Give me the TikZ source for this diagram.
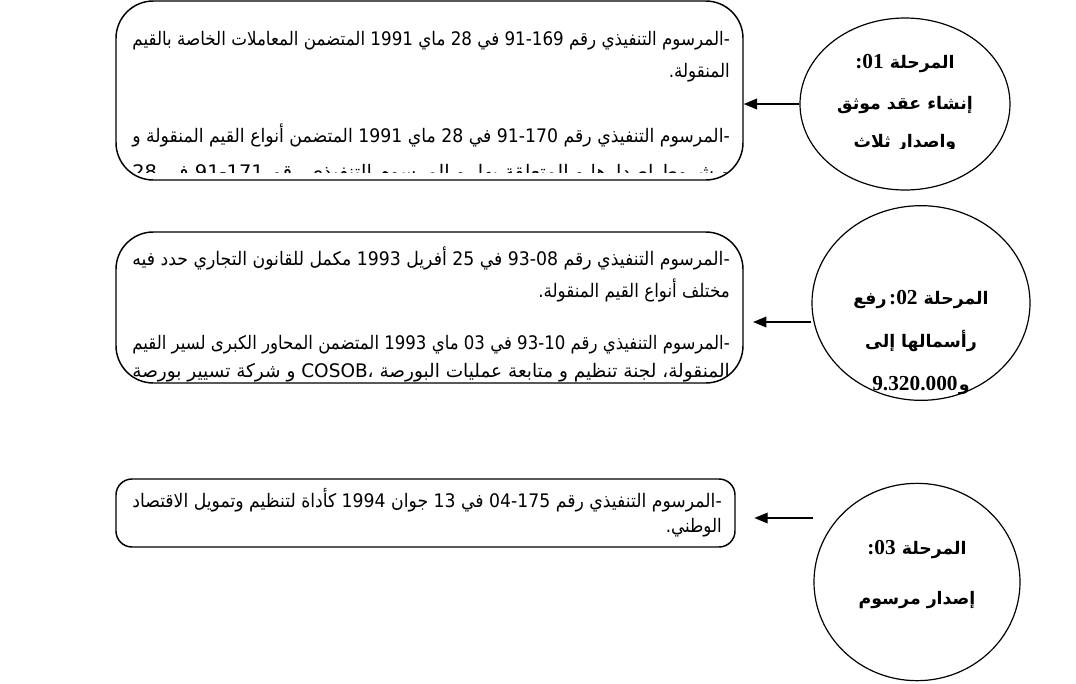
\documentclass[tikz,border=0pt]{standalone}
\usepackage{fontspec}
\usepackage{graphicx}
\usetikzlibrary{shapes.geometric,arrows.meta}
\TeXXeTstate=1
\newfontfamily\arabicfont[Script=Arabic]{DejaVu Sans}
\newfontfamily\numfont{Liberation Serif}
\newcommand\bodyfont{\arabicfont\fontsize{14}{16}\selectfont}
\newcommand\stagefont{\arabicfont\bfseries\fontsize{13}{15}\selectfont}
\newsavebox\measbox
\newcommand\fullline[2][448pt]{\resizebox{#1}{\height}{\bodyfont\beginR #2\endR}}
\newcommand\shortline[1]{\scalebox{\sx}[1]{\bodyfont\beginR #1\endR}}
\newcommand\stageline[1]{{\stagefont\beginR #1\endR}}
\newcommand\nm[1]{{\numfont\bfseries\fontsize{16}{18}\selectfont #1}}
\begin{document}
\sbox\measbox{\bodyfont\beginR -المرسوم التنفيذي رقم 91-169 في 28 ماي 1991 المتضمن المعاملات الخاصة بالقيم\endR}%
\pgfmathsetmacro\sx{448pt/\wd\measbox}%
\begin{tikzpicture}[x=0.75pt,y=-0.75pt,
  boxst/.style={draw,line width=1.1pt,inner sep=0pt},
  stagest/.style={draw,ellipse,line width=0.9pt,inner sep=0pt},
  txt/.style={inner sep=0pt,anchor=base east},
  stg/.style={inner sep=0pt,anchor=base},
  arr/.style={line width=1.1pt,-{Triangle[length=10pt,width=8pt]}}]
\useasboundingbox (0,0) rectangle (1076,683);

% boxes
\node[boxst,rounded corners=28pt,minimum width=470.25pt,minimum height=134.25pt] (b1) at (429.5,90.5) {};
\node[boxst,rounded corners=28pt,minimum width=470.25pt,minimum height=113.25pt] (b2) at (429.5,307.5) {};
\node[boxst,rounded corners=12pt,minimum width=464.25pt,minimum height=51pt] (b3) at (425.5,513) {};

% ellipses
\node[stagest,minimum width=157.5pt,minimum height=129pt] (e1) at (905,104) {};
\node[stagest,minimum width=163.5pt,minimum height=146pt] (e2) at (921,303) {};
\node[stagest,minimum width=154.5pt,minimum height=148pt] (e3) at (917,582) {};

% box 1 text
\node[txt] (t11) at (730,45) {\fullline{-المرسوم التنفيذي رقم 91-169 في 28 ماي 1991 المتضمن المعاملات الخاصة بالقيم}};
\node[txt] (t12) at (730,77) {\shortline{المنقولة.}};
\node[txt] (t13) at (730,142) {\fullline{-المرسوم التنفيذي رقم 91-170 في 28 ماي 1991 المتضمن أنواع القيم المنقولة و}};
\begin{scope}
\clip (100,150) rectangle (760,172);
\node[txt] (t14) at (730,178) {\fullline{و شروط إصدارها و المتعلقة بها، و المرسوم التنفيذي رقم 91-171 في 28}};
\end{scope}

% box 2 text
\node[txt] (t21) at (730,265) {\fullline{-المرسوم التنفيذي رقم 93-08 في 25 أفريل 1993 مكمل للقانون التجاري حدد فيه}};
\node[txt] (t22) at (730,297) {\shortline{مختلف أنواع القيم المنقولة.}};
\node[txt] (t23) at (730,349) {\fullline{-المرسوم التنفيذي رقم 93-10 في 03 ماي 1993 المتضمن المحاور الكبرى لسير القيم}};
\begin{scope}
\clip (100,360) rectangle (760,381);
\node[txt] (t24) at (730,377) {\fullline{المنقولة، لجنة تنظيم و متابعة عمليات البورصة COSOB، و شركة تسيير بورصة}};
\end{scope}

% box 3 text
\node[txt] (t31) at (722,507) {\fullline[442pt]{-المرسوم التنفيذي رقم 04-175 في 13 جوان 1994 كأداة لتنظيم وتمويل الاقتصاد}};
\node[txt] (t32) at (722,532) {\shortline{الوطني.}};

% stage texts
\node[stg] (s11) at (905,68) {\stageline{المرحلة \nm{01}\kern0pt\nm{:}}};
\node[stg] (s12) at (905,109) {\stageline{إنشاء عقد موثق}};
\begin{scope}
\clip (790,120) rectangle (1020,148);
\node[stg] (s13) at (905,147) {\stageline{واصدار ثلاث}};
\end{scope}
\node[stg] (s21) at (921,304) {\stageline{المرحلة \nm{02}\kern0pt\nm{:}\kern2pt رفع}};
\node[stg] (s22) at (921,347) {\stageline{رأسمالها إلى}};
\node[stg] (s23) at (921,390) {\stageline{و\kern1pt\nm{9.320.000}}};
\node[stg] (s31) at (917,554) {\stageline{المرحلة \nm{03}\kern0pt\nm{:}}};
\node[stg] (s32) at (917,604) {\stageline{إصدار مرسوم}};

% arrows
\draw[arr] (e1.west) -- (e1.west -| b1.east);
\draw[arr,shorten >=7pt] (e2.west |- 0,322) -- (b2.east |- 0,322);
\draw[arr,shorten >=14pt] (e3.west |- 0,518) -- (b3.east |- 0,518);
\end{tikzpicture}
\end{document}
